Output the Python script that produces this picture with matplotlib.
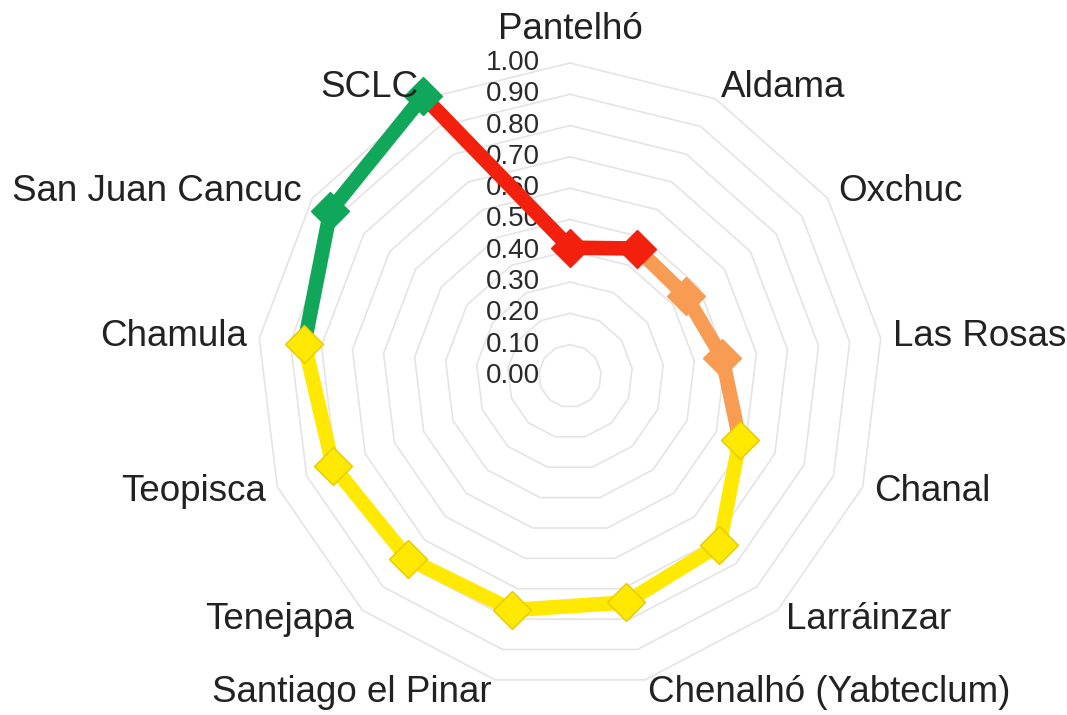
import numpy as np
import matplotlib
matplotlib.use("Agg")
import matplotlib.pyplot as plt

categories = ["Pantelhó", "Aldama", "Oxchuc", "Las Rosas", "Chanal", "Larráinzar",
              "Chenalhó (Yabteclum)", "Santiago el Pinar", "Tenejapa", "Teopisca",
              "Chamula", "San Juan Cancuc", "SCLC"]
values = [0.41, 0.46, 0.45, 0.49, 0.58, 0.72, 0.745, 0.77, 0.78, 0.81, 0.855, 0.93, 1.01]
tick_values = [0.0, 0.1, 0.2, 0.3, 0.4, 0.5, 0.6, 0.7, 0.8, 0.9, 1.0]
tick_labels = ["0.00", "0.10", "0.20", "0.30", "0.40", "0.50", "0.60", "0.70", "0.80", "0.90", "1.00"]

RED = "#F2200C"
ORANGE = "#F79C52"
YELLOW = "#FFE900"
GREEN = "#11A75B"
point_colors = [RED, RED, ORANGE, ORANGE, YELLOW, YELLOW, YELLOW, YELLOW, YELLOW,
                YELLOW, YELLOW, GREEN, GREEN]
segment_colors = [RED, ORANGE, ORANGE, ORANGE, YELLOW, YELLOW, YELLOW, YELLOW, YELLOW,
                  YELLOW, GREEN, GREEN, RED]
edge_colors = {RED: RED, ORANGE: ORANGE, YELLOW: "#E8C800", GREEN: GREEN}

plt.rcParams['font.family'] = ['Liberation Sans', 'DejaVu Sans']

W, H = 1067, 715
cx, cy, R = 570, 376, 313
fig = plt.figure(figsize=(W / 100, H / 100), dpi=100)
ax = fig.add_axes([0, 0, 1, 1])
ax.set_xlim(-cx / R, (W - cx) / R)
ax.set_ylim(-(H - cy) / R, cy / R)
ax.axis("off")

n = len(categories)
ang = np.pi / 2 - np.arange(n) * 2 * np.pi / n
ca, sa = np.cos(ang), np.sin(ang)

# grid rings
for t in tick_values[1:]:
    xs = np.append(t * ca, t * ca[0])
    ys = np.append(t * sa, t * sa[0])
    ax.plot(xs, ys, color="#E4E4E4", lw=1.2, zorder=1)

# tick labels
for t, lab in zip(tick_values, tick_labels):
    ax.text(-0.096, t, lab, ha="right", va="center", fontsize=20, color="#2a2a2a", zorder=2)

# data
v = np.array(values)
px, py = v * ca, v * sa
for i in range(n):
    j = (i + 1) % n
    ax.plot([px[i], px[j]], [py[i], py[j]], color=segment_colors[i], lw=10.5,
            solid_capstyle="round", zorder=3)
for i in range(n):
    ax.plot(px[i], py[i], marker="D", markersize=19, color=point_colors[i],
            markeredgecolor=edge_colors[point_colors[i]], markeredgewidth=1, zorder=4)

# category labels
L = 1.04
for i, lab in enumerate(categories):
    c, s = ca[i], sa[i]
    ha = "left" if c > 0.1 else ("right" if c < -0.1 else "center")
    va = "center"
    r = L
    if abs(c) < 0.1 and s > 0:
        va = "bottom"
        r = 1.05
    ax.text(r * c, r * s, lab, ha=ha, va=va, fontsize=26.5, color="#222222", zorder=5)

fig.savefig("out.png", dpi=100)
